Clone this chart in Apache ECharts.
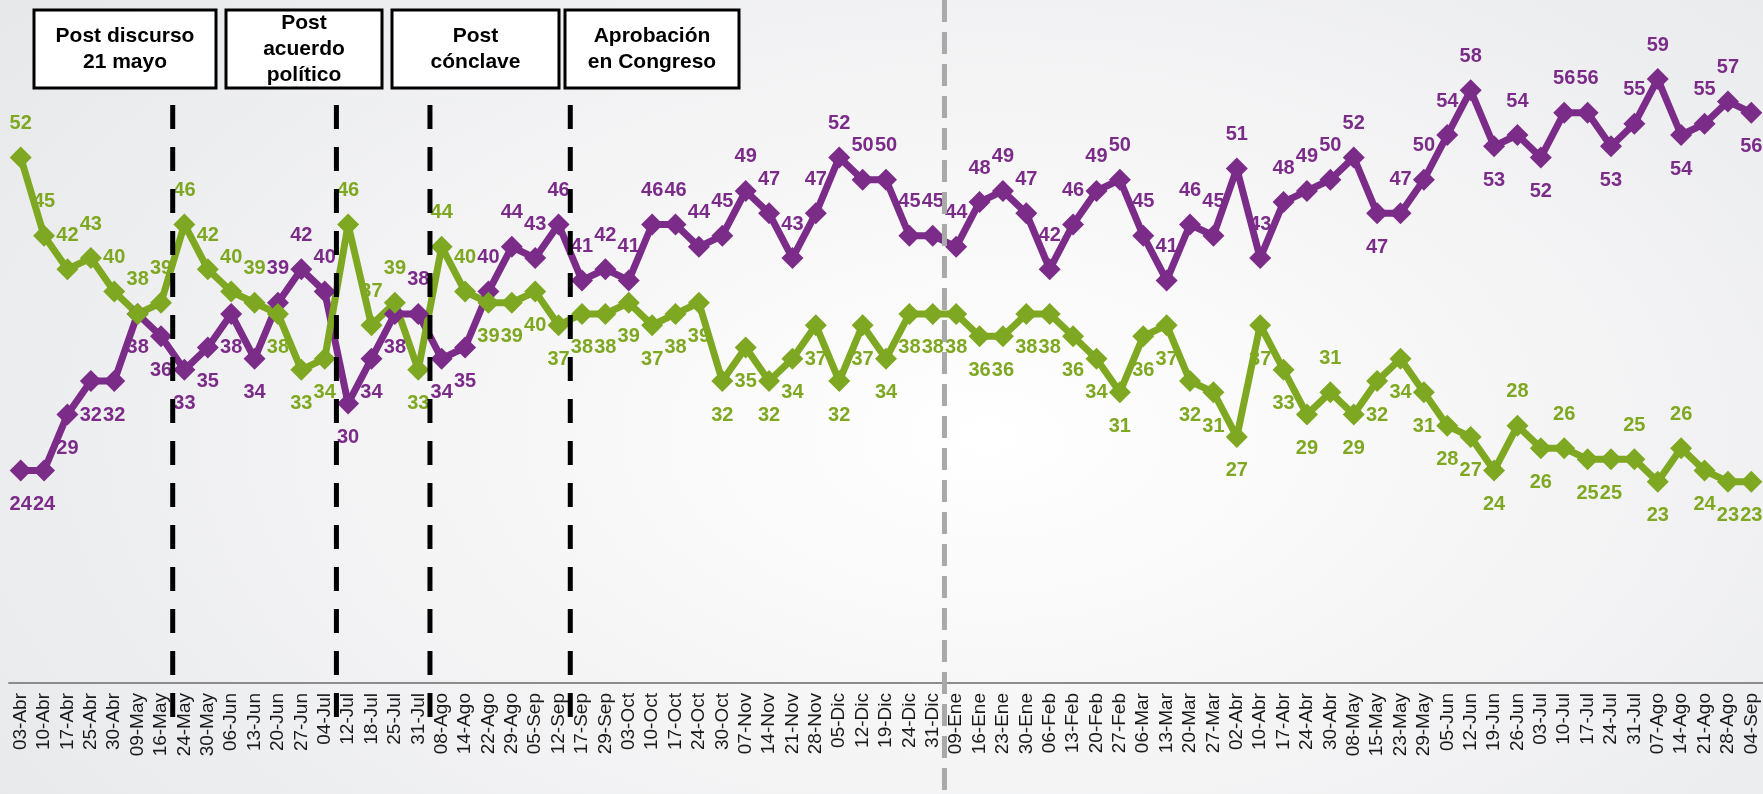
<!DOCTYPE html>
<html>
<head>
<meta charset="utf-8">
<script src="https://cdn.jsdelivr.net/npm/echarts@6/dist/echarts.min.js"></script>
<style>
html, body { margin: 0; padding: 0; }
#main {
	width: 1763px; height: 794px;
	background: radial-gradient(ellipse 70% 90% at 56% 55%, #ffffff 0%, #f6f6f7 40%, #e7e8ea 100%);
}
</style>
</head>
<body>
<div id="main"></div>
<script>
var categories = ['03-Abr','10-Abr','17-Abr','25-Abr','30-Abr','09-May','16-May','24-May','30-May','06-Jun',
	'13-Jun','20-Jun','27-Jun','04-Jul','12-Jul','18-Jul','25-Jul','31-Jul','08-Ago','14-Ago',
	'22-Ago','29-Ago','05-Sep','12-Sep','17-Sep','29-Sep','03-Oct','10-Oct','17-Oct','24-Oct',
	'30-Oct','07-Nov','14-Nov','21-Nov','28-Nov','05-Dic','12-Dic','19-Dic','24-Dic','31-Dic',
	'09-Ene','16-Ene','23-Ene','30-Ene','06-Feb','13-Feb','20-Feb','27-Feb','06-Mar','13-Mar',
	'20-Mar','27-Mar','02-Abr','10-Abr','17-Abr','24-Abr','30-Abr','08-May','15-May','23-May',
	'29-May','05-Jun','12-Jun','19-Jun','26-Jun','03-Jul','10-Jul','17-Jul','24-Jul','31-Jul',
	'07-Ago','14-Ago','21-Ago','28-Ago','04-Sep'];

var purpleValues = [24,24,29,32,32,38,36,33,35,38,
	34,39,42,40,30,34,38,38,34,35,
	40,44,43,46,41,42,41,46,46,44,
	45,49,47,43,47,52,50,50,45,45,
	44,48,49,47,42,46,49,50,45,41,
	46,45,51,43,48,49,50,52,47,47,
	50,54,58,53,54,52,56,56,53,55,
	59,54,55,57,56];

var greenValues = [52,45,42,43,40,38,39,46,42,40,
	39,38,33,34,46,37,39,33,44,40,
	39,39,40,37,38,38,39,37,38,39,
	32,35,32,34,37,32,37,34,38,38,
	38,36,36,38,38,36,34,31,36,37,
	32,31,27,37,33,29,31,29,32,34,
	31,28,27,24,28,26,26,25,25,25,
	23,26,24,23,23];

// divisiones entre semanas (indice de categoria)
var eventBreaks = [7, 14, 18, 24];
var yearBreak = 40;
var eventNotes = ['Post discurso\n21 mayo', 'Post\nacuerdo\npolítico', 'Post\ncónclave', 'Aprobación\nen Congreso'];

var purple = '#7b2b88';
var green = '#7fa822';

function labelPos(vals, other, i, winsTie) {
	var v = vals[i];
	var prev = i > 0 ? vals[i - 1] : v;
	var next = i < vals.length - 1 ? vals[i + 1] : v;
	if (Math.abs(v - other[i]) >= 15) {
		if (v >= prev && v >= next && !(v == prev && v == next)) return 'top';
		if (v <= prev && v <= next) return 'bottom';
	}
	if (v > other[i] || (v == other[i] && winsTie)) return 'top';
	return 'bottom';
}

function buildData(vals, other, winsTie) {
	return vals.map(function (v, i) {
		return { value: v, label: { position: labelPos(vals, other, i, winsTie) } };
	});
}

var chart = echarts.init(document.getElementById('main'));

chart.setOption({
	backgroundColor: 'transparent',
	animation: false,
	grid: { left: 9, right: -10, top: 12, bottom: 111 },
	xAxis: [{
		type: 'category',
		data: categories,
		boundaryGap: true,
		axisLine: { lineStyle: { color: '#8c8c8c', width: 2 } },
		axisTick: { interval: 0, length: 5, lineStyle: { color: '#8c8c8c', width: 2 } },
		axisLabel: {
			interval: 0,
			rotate: 90,
			fontSize: 19,
			color: '#1a1a1a',
			fontFamily: 'Liberation Sans',
			margin: 10
		}
	}, {
		type: 'value',
		min: 0,
		max: categories.length,
		show: false
	}],
	yAxis: { type: 'value', min: 5, max: 65, show: false },
	series: [{
		type: 'line',
		data: buildData(purpleValues, greenValues, false),
		symbol: 'diamond',
		symbolSize: 22,
		lineStyle: { color: purple, width: 7 },
		itemStyle: { color: purple },
		label: {
			show: true,
			color: purple,
			fontSize: 20,
			fontWeight: 'bold',
			fontFamily: 'Liberation Sans',
			distance: 13
		}
	}, {
		type: 'line',
		data: buildData(greenValues, purpleValues, true),
		symbol: 'diamond',
		symbolSize: 22,
		lineStyle: { color: green, width: 7 },
		itemStyle: { color: green },
		label: {
			show: true,
			color: green,
			fontSize: 20,
			fontWeight: 'bold',
			fontFamily: 'Liberation Sans',
			distance: 13
		}
	}]
});

// lineas divisorias y recuadros
var elements = [];
eventBreaks.forEach(function (b) {
	var x = chart.convertToPixel({ xAxisIndex: 1 }, b);
	elements.push({
		type: 'line', z: 100,
		shape: { x1: x, y1: 105, x2: x, y2: 732 },
		style: { stroke: '#000', lineWidth: 5, lineDash: [24, 18] }
	});
});
var yx = chart.convertToPixel({ xAxisIndex: 1 }, yearBreak);
elements.push({
	type: 'line', z: 100,
	shape: { x1: yx, y1: 0, x2: yx, y2: 794 },
	style: { stroke: '#a9a9a9', lineWidth: 5, lineDash: [22, 10] }
});

var boxes = [[34, 182], [226, 156], [392, 167], [565, 174]];
boxes.forEach(function (bx, i) {
	elements.push({
		type: 'rect', z: 110,
		shape: { x: bx[0], y: 10, width: bx[1], height: 78 },
		style: { fill: '#fff', stroke: '#000', lineWidth: 3 }
	});
	elements.push({
		type: 'text', z: 111,
		x: bx[0] + bx[1] / 2, y: 49,
		style: {
			text: eventNotes[i],
			align: 'center',
			verticalAlign: 'middle',
			font: 'bold 21px "Liberation Sans"',
			lineHeight: 26,
			fill: '#000'
		}
	});
});

chart.setOption({ graphic: elements });
</script>
</body>
</html>
